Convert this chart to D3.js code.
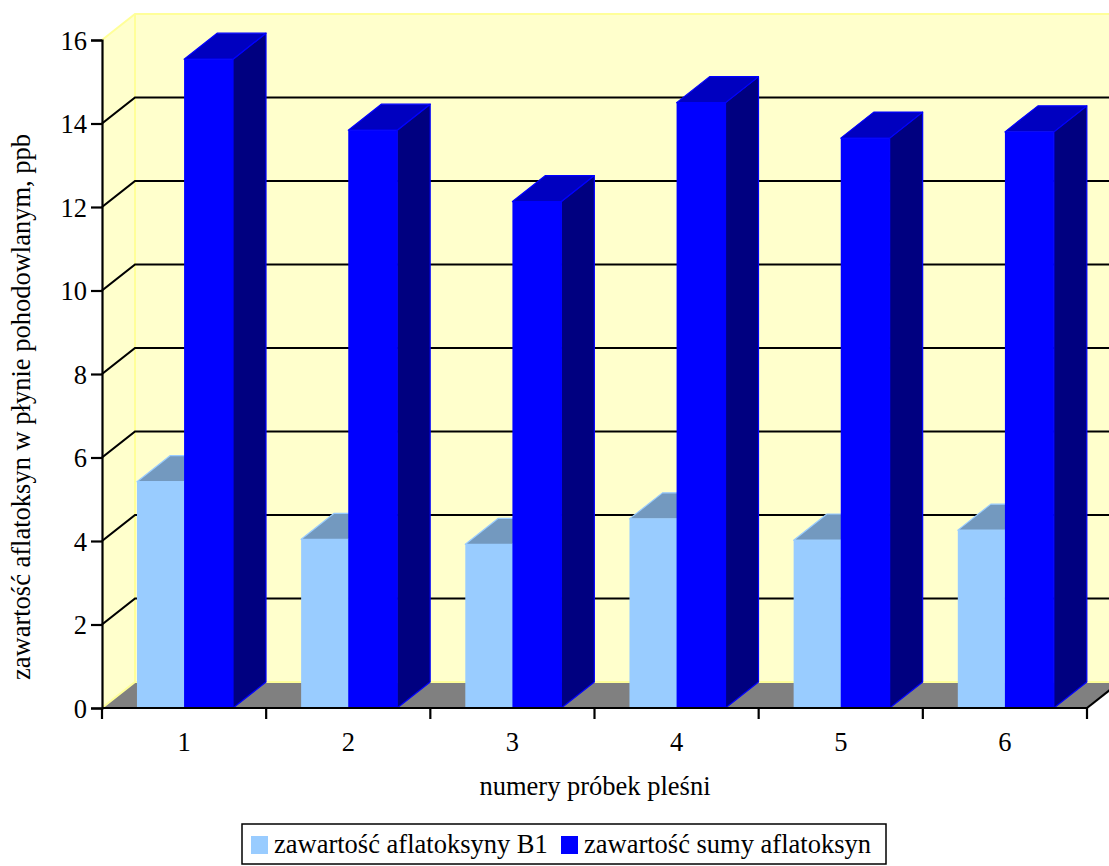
<!DOCTYPE html>
<html><head><meta charset="utf-8">
<script src="https://cdn.jsdelivr.net/npm/d3@7"></script>
<style>
html,body{margin:0;padding:0;background:#fff;overflow:hidden}
svg{display:block}
svg text{font-family:"Liberation Serif","Times New Roman",Times,"DejaVu Serif",serif}
</style></head>
<body>
<svg id="c" width="1109" height="866"></svg>
<script>
const categories = ["1","2","3","4","5","6"];
const seriesNames = ["zawartość aflatoksyny B1","zawartość sumy aflatoksyn"];
const b1Values = [5.42, 4.04, 3.92, 4.53, 4.02, 4.26];
const sumValues = [15.54, 13.84, 12.13, 14.50, 13.65, 13.80];
const yTicks = [0,2,4,6,8,10,12,14,16];
const yTitle = "zawartość aflatoksyn w płynie pohodowlanym, ppb";
const xTitle = "numery próbek pleśni";

const FONT = "'Liberation Serif','Times New Roman',Times,'DejaVu Serif',serif";
const FS = 26.5;
const svg = d3.select("#c");
const X0 = 102, X1 = 1087, DX = 33, DY = -26;
const y = d3.scaleLinear().domain([0,16]).range([708,40]);
const x = d3.scaleBand().domain(categories).range([X0,X1]);

const poly = pts => "M" + pts.map(p=>p.join(",")).join("L") + "Z";

// walls
const yb0 = y(0), yb16 = y(16);
svg.append("path").attr("d", poly([[X0,yb0],[X0+DX,yb0+DY],[X0+DX,yb16+DY],[X0,yb16]]))
  .attr("fill","#FFFFCC");
svg.append("path").attr("d", poly([[X0+DX,yb0+DY],[X1+DX,yb0+DY],[X1+DX,yb16+DY],[X0+DX,yb16+DY]]))
  .attr("fill","#FFFFCC");
svg.append("path").attr("d", `M${X0},${yb16}L${X0+DX},${yb16+DY}L${X1+DX+40},${yb16+DY}`)
  .attr("fill","none").attr("stroke","#FFFF99").attr("stroke-width",2);
svg.append("line").attr("x1",X0+DX).attr("x2",X0+DX).attr("y1",yb16+DY).attr("y2",yb0+DY)
  .attr("stroke","#FFFF99").attr("stroke-width",2);
// floor
svg.append("path").attr("d", poly([[X0,yb0],[X1,yb0],[X1+DX,yb0+DY],[X0+DX,yb0+DY]]))
  .attr("fill","#808080");
svg.append("path").attr("d", `M${X0},${yb0}L${X0+DX},${yb0+DY}L${X1+DX+40},${yb0+DY}`)
  .attr("fill","none").attr("stroke","#FFFF99").attr("stroke-width",2);

// gridlines
yTicks.filter(v=>v>0 && v<16).forEach(v=>{
  svg.append("path").attr("d", `M${X0},${y(v)}L${X0+DX},${y(v)+DY}L${X1+DX+40},${y(v)+DY}`)
    .attr("fill","none").attr("stroke","#000").attr("stroke-width",2.2);
});

// bars
function bar(x0, x1, v, cFront, cTop, cSide, cEdge){
  const yt = y(v), yb = y(0);
  const g = svg.append("g");
  g.append("path").attr("d", poly([[x1,yb],[x1+DX,yb+DY],[x1+DX,yt+DY],[x1,yt]]))
    .attr("fill",cSide).attr("stroke",cEdge).attr("stroke-width",1.2).attr("stroke-linejoin","round");
  g.append("path").attr("d", poly([[x0,yt],[x1,yt],[x1+DX,yt+DY],[x0+DX,yt+DY]]))
    .attr("fill",cTop).attr("stroke",cEdge).attr("stroke-width",1.2).attr("stroke-linejoin","round");
  g.append("rect").attr("x",x0).attr("y",yt).attr("width",x1-x0).attr("height",yb-yt)
    .attr("fill",cFront);
}
categories.forEach((c,i)=>{
  const cx = x(c), bw = x.bandwidth();
  const a = cx + bw*0.213, m = cx + bw*0.5, b = cx + bw*0.798;
  bar(a, m, b1Values[i], "#99CCFF", "#7399BF", "#4D6680", "#99CCFF");
  bar(m, b, sumValues[i], "#0000FF", "#0000C0", "#000080", "#0000FF");
});

// floor right edge
svg.append("line").attr("x1",X1).attr("y1",yb0).attr("x2",X1+DX).attr("y2",yb0+DY)
  .attr("stroke","#000").attr("stroke-width",2.2);

// y axis
const yAxis = d3.axisLeft(y).tickValues(yTicks).tickSize(11).tickPadding(4).tickFormat(d3.format("d"));
const ya = svg.append("g").attr("transform",`translate(${X0},0)`).call(yAxis)
  .attr("font-family",FONT).attr("font-size",FS);
ya.select(".domain").attr("stroke","#000").attr("stroke-width",2.2);
ya.selectAll(".tick line").attr("stroke","#000").attr("stroke-width",2.2);
ya.selectAll(".tick text").attr("fill","#000").attr("dy","0.34em");

// x axis
const xEdge = d3.scalePoint().domain(d3.range(7)).range([X0,X1]);
svg.append("line").attr("x1",X0).attr("x2",X1).attr("y1",yb0).attr("y2",yb0)
  .attr("stroke","#000").attr("stroke-width",2.2);
xEdge.domain().forEach(k=>{
  svg.append("line").attr("x1",xEdge(k)).attr("x2",xEdge(k)).attr("y1",yb0).attr("y2",yb0+11)
    .attr("stroke","#000").attr("stroke-width",2.2);
});
svg.append("g").selectAll("text").data(categories).join("text")
  .attr("x",d=>x(d)+x.bandwidth()/2).attr("y",751).attr("text-anchor","middle")
  .attr("font-family",FONT).attr("font-size",FS).text(d=>d);

svg.append("text").attr("x",595).attr("y",795).attr("text-anchor","middle")
  .attr("font-family",FONT).attr("font-size",FS).text(xTitle);
svg.append("text").attr("transform","translate(30,407) rotate(-90)").attr("text-anchor","middle")
  .attr("font-family",FONT).attr("font-size",FS).text(yTitle);

// legend
const lg = svg.append("g");
lg.append("rect").attr("x",242).attr("y",824).attr("width",644).attr("height",40)
  .attr("fill","#fff").attr("stroke","#000").attr("stroke-width",1.5);
const legX = [251, 561], legTX = [274, 584], legC = ["#99CCFF","#0000FF"];
seriesNames.forEach((s,i)=>{
  lg.append("rect").attr("x",legX[i]).attr("y",836).attr("width",17).attr("height",18).attr("fill",legC[i]);
  lg.append("text").attr("x",legTX[i]).attr("y",853).attr("font-family",FONT).attr("font-size",FS).text(s);
});
</script>
</body></html>
